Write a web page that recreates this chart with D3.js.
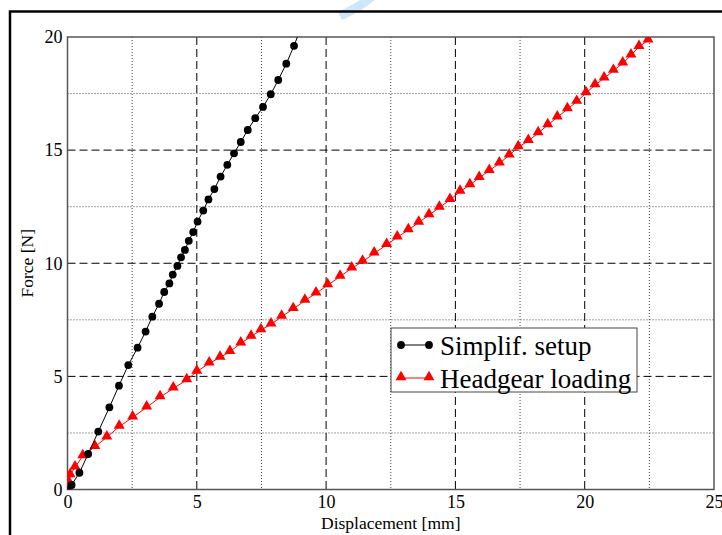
<!DOCTYPE html>
<html>
<head>
<meta charset="utf-8">
<script src="https://cdn.jsdelivr.net/npm/d3@7"></script>
<style>
  body { margin: 0; background: #fff; }
  svg { display: block; }
  svg text { font-family: "Liberation Serif", "Times New Roman", serif; }
</style>
</head>
<body>
<svg id="chart" width="722" height="535"></svg>
<script>
// displacement [mm] and force [N]
const simplifX = [0, 0.16, 0.46, 0.80, 1.19, 1.62, 1.99, 2.35, 2.71, 3.02, 3.28, 3.54, 3.74, 3.94, 4.07, 4.25, 4.39, 4.54, 4.69, 4.86, 5.03, 5.25, 5.45, 5.68, 5.92, 6.18, 6.44, 6.70, 6.97, 7.26, 7.56, 7.86, 8.15, 8.46, 8.76, 9.02];
const simplifY = [0, 0.20, 0.74, 1.57, 2.56, 3.63, 4.59, 5.50, 6.27, 6.98, 7.64, 8.21, 8.73, 9.11, 9.50, 9.88, 10.26, 10.59, 10.99, 11.38, 11.84, 12.33, 12.82, 13.28, 13.83, 14.35, 14.86, 15.36, 15.89, 16.41, 16.91, 17.47, 18.10, 18.82, 19.61, 20.40];

const headgearX = [0, 0.05, 0.10, 0.29, 0.59, 1.06, 1.52, 2.00, 2.52, 3.06, 3.58, 4.09, 4.61, 5.00, 5.48, 5.90, 6.28, 6.70, 7.10, 7.48, 7.87, 8.28, 8.73, 9.18, 9.61, 10.06, 10.54, 10.99, 11.41, 11.86, 12.34, 12.75, 13.18, 13.58, 13.98, 14.38, 14.79, 15.18, 15.56, 15.92, 16.31, 16.70, 17.08, 17.43, 17.82, 18.20, 18.57, 18.94, 19.33, 19.69, 20.05, 20.40, 20.75, 21.11, 21.47, 21.79, 22.10, 22.45];
const headgearY = [0, 0.32, 0.64, 0.98, 1.48, 1.89, 2.31, 2.78, 3.19, 3.63, 4.08, 4.47, 4.84, 5.21, 5.58, 5.83, 6.09, 6.46, 6.76, 7.05, 7.30, 7.64, 7.98, 8.35, 8.67, 9.03, 9.41, 9.78, 10.07, 10.44, 10.81, 11.15, 11.47, 11.80, 12.13, 12.46, 12.80, 13.17, 13.46, 13.78, 14.09, 14.42, 14.77, 15.13, 15.41, 15.75, 16.11, 16.45, 16.81, 17.14, 17.52, 17.88, 18.17, 18.51, 18.84, 19.19, 19.57, 19.85];

const xTicks = [0, 5, 10, 15, 20, 25];
const yTicks = [0, 5, 10, 15, 20];
const xMinor = [2.5, 7.5, 12.5, 17.5, 22.5];
const yMinor = [2.5, 7.5, 12.5, 17.5];
const seriesNames = ["Simplif. setup", "Headgear loading"];

const svg = d3.select("#chart");
const serif = '"Liberation Serif", "Times New Roman", serif';

const x = d3.scaleLinear().domain([0, 25]).range([67.5, 714]);
const y = d3.scaleLinear().domain([0, 20]).range([489.5, 37]);
const pLeft = x.range()[0], pRight = x.range()[1];
const pTop = y.range()[1], pBottom = y.range()[0];

// page frame lines and faint watermark
svg.append("path")
  .attr("d", "M340,16 Q362,6 372,-4")
  .attr("fill", "none").attr("stroke", "#cde6fa").attr("stroke-width", 9);
svg.append("path")
  .attr("d", `M10,535 L10,11.5 L722,11.5`)
  .attr("fill", "none").attr("stroke", "#000").attr("stroke-width", 2.5);

svg.append("clipPath").attr("id", "clip-plot")
  .append("rect")
    .attr("x", pLeft).attr("y", pTop)
    .attr("width", pRight - pLeft).attr("height", pBottom - pTop);

// grid
const grid = svg.append("g").attr("class", "grid");
grid.selectAll(".vminor").data(xMinor).join("line")
  .attr("class", "vminor")
  .attr("x1", d => x(d)).attr("x2", d => x(d)).attr("y1", pTop).attr("y2", pBottom)
  .attr("stroke", "#444").attr("stroke-width", 1).attr("stroke-dasharray", "1,2");
grid.selectAll(".hminor").data(yMinor).join("line")
  .attr("class", "hminor")
  .attr("y1", d => y(d)).attr("y2", d => y(d)).attr("x1", pLeft).attr("x2", pRight)
  .attr("stroke", "#444").attr("stroke-width", 1).attr("stroke-dasharray", "1,2");
grid.selectAll(".vmajor").data(xTicks.slice(1, -1)).join("line")
  .attr("class", "vmajor")
  .attr("x1", d => x(d)).attr("x2", d => x(d)).attr("y1", pTop).attr("y2", pBottom)
  .attr("stroke", "#000").attr("stroke-width", 1).attr("stroke-dasharray", "8,4");
grid.selectAll(".hmajor").data(yTicks.slice(1, -1)).join("line")
  .attr("class", "hmajor")
  .attr("y1", d => y(d)).attr("y2", d => y(d)).attr("x1", pLeft).attr("x2", pRight)
  .attr("stroke", "#000").attr("stroke-width", 1).attr("stroke-dasharray", "8,4");

// axes box
svg.append("rect")
  .attr("x", pLeft).attr("y", pTop)
  .attr("width", pRight - pLeft).attr("height", pBottom - pTop)
  .attr("fill", "none").attr("stroke", "#555").attr("stroke-width", 1.5);

// tick labels
svg.append("g")
  .attr("transform", `translate(0,${pBottom})`)
  .call(d3.axisBottom(x).tickValues(xTicks).tickSize(0).tickPadding(6))
  .call(g => g.select(".domain").remove())
  .call(g => g.selectAll("text").style("font-size", "18px").style("font-family", serif).attr("fill", "#000"));

svg.append("g")
  .attr("transform", `translate(${pLeft},0)`)
  .call(d3.axisLeft(y).tickValues(yTicks).tickSize(0).tickPadding(5))
  .call(g => g.select(".domain").remove())
  .call(g => g.selectAll("text").style("font-size", "18px").style("font-family", serif).attr("fill", "#000"));

svg.append("text")
  .attr("x", (pLeft + pRight) / 2).attr("y", 529)
  .attr("text-anchor", "middle").style("font-size", "17.5px")
  .text("Displacement [mm]");

svg.append("text")
  .attr("transform", `translate(33,${(pTop + pBottom) / 2}) rotate(-90)`)
  .attr("text-anchor", "middle").style("font-size", "17.5px")
  .text("Force [N]");

// series
const plot = svg.append("g").attr("clip-path", "url(#clip-plot)");
const line = d3.line().x(d => x(d[0])).y(d => y(d[1]));
const simplif = simplifX.map((v, i) => [v, simplifY[i]]);
const headgear = headgearX.map((v, i) => [v, headgearY[i]]);
const tri = d3.symbol().type(d3.symbolTriangle).size(52);

plot.append("path").datum(headgear)
  .attr("d", line).attr("fill", "none").attr("stroke", "#f00").attr("stroke-width", 1);
plot.selectAll(".tri").data(headgear).join("path")
  .attr("class", "tri")
  .attr("transform", d => `translate(${x(d[0])},${y(d[1]) - 1})`)
  .attr("d", tri).attr("fill", "#f00");

plot.append("path").datum(simplif)
  .attr("d", line).attr("fill", "none").attr("stroke", "#000").attr("stroke-width", 1);
plot.selectAll(".dot").data(simplif).join("circle")
  .attr("class", "dot")
  .attr("cx", d => x(d[0])).attr("cy", d => y(d[1])).attr("r", 3.9)
  .attr("fill", "#000");

// legend
const legend = svg.append("g").attr("transform", "translate(391,328)");
legend.append("rect")
  .attr("width", 246).attr("height", 64)
  .attr("fill", "#fff").attr("stroke", "#444").attr("stroke-width", 1);

const rows = legend.selectAll(".row").data(seriesNames).join("g")
  .attr("class", "row")
  .attr("transform", (d, i) => `translate(0,${i === 0 ? 17 : 50})`);
rows.append("line")
  .attr("x1", 10).attr("x2", 38)
  .attr("stroke", (d, i) => i === 0 ? "#000" : "#f00").attr("stroke-width", 1);
rows.each(function(d, i) {
  const g = d3.select(this);
  [10, 38].forEach(cx => {
    if (i === 0) g.append("circle").attr("cx", cx).attr("cy", 0).attr("r", 3.9).attr("fill", "#000");
    else g.append("path").attr("transform", `translate(${cx},-1)`).attr("d", tri).attr("fill", "#f00");
  });
});
rows.append("text")
  .attr("x", 49).attr("y", 10)
  .style("font-size", "27px").attr("fill", "#000")
  .text(d => d);
</script>
</body>
</html>
